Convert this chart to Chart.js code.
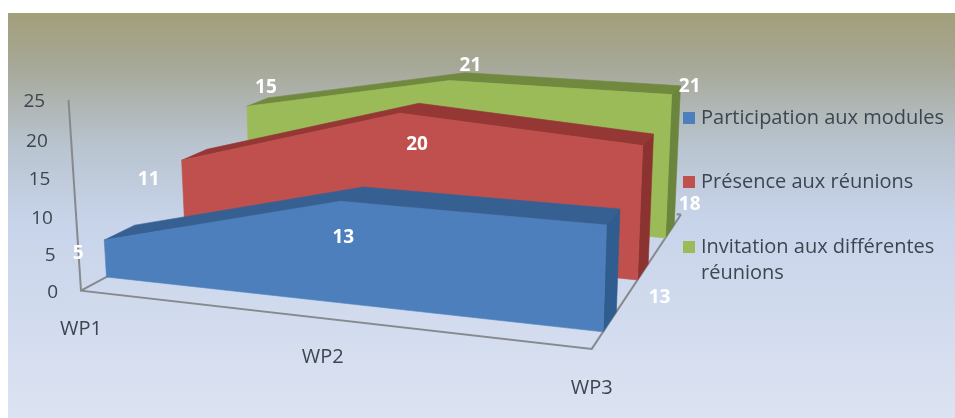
<!DOCTYPE html>
<html>
<head>
<meta charset="utf-8">
<title>Participation WP</title>
<script src="https://cdn.jsdelivr.net/npm/chart.js@4"></script>
<style>
  html, body { margin: 0; padding: 0; background: #fff; }
  canvas { display: block; filter: blur(0.5px); }
</style>
</head>
<body>
<canvas id="areaChart" width="955" height="418"></canvas>
<script>
// --- Data ---
const categories = ["WP1", "WP2", "WP3"];
const yTicks = [0, 5, 10, 15, 20, 25];
const participation = [5, 13, 13];
const presence = [11, 20, 18];
const invitation = [15, 21, 21];
const seriesNames = ["Participation aux modules", "Présence aux réunions", ["Invitation aux différentes", "réunions"]];

// --- Look ---
const FONT = '"Open Sans", sans-serif';
const TEXT_COLOR = '#3c4650';
const AXIS_COLOR = '#868a8e';
const FRONT_COLORS = ['#4c7fbc', '#c0504d', '#9bbb59'];
const TOP_COLORS = ['#376092', '#953735', '#71893f'];
const SIDE_COLORS = ['#2f5d90', '#8c3230', '#6b853c'];
const LEGEND_Y = [118, 182, 247];

// where the data labels sit relative to the top of their point (series, category)
const LABEL_SHIFT = [
    [[-26, 14], [3, 36], [53, 73]],
    [[-33, 19], [17, 31], [47, 59]],
    [[19, -19], [21, -15], [18, -8]]
];

// --- 3D projection: category t, value v, depth z -> canvas position ---
const DEPTH = 0.36;      // thickness of one series
const FLOOR_FRONT = -0.285;
const FLOOR_BACK = 2.65;
const AXIS_TOP = 24.4;

function project(t, v, z) {
    const w = 1 - 0.0489 * t - 0.00137 * v + 0.105 * z;
    return {
        x: (106.5 + 218.8 * t - 0.59 * v + 98 * z) / w,
        y: (277 + 11.2 * t - 7.72 * v - 17.4 * z) / w
    };
}

// --- Build the faces of every series ---
function frontFace(values, z) {
    const top = values.map((v, t) => project(t, v, z));
    return top.concat([project(2, 0, z), project(0, 0, z)]);
}

function topFace(values, z) {
    const front = values.map((v, t) => project(t, v, z));
    const back = values.map((v, t) => project(t, v, z + DEPTH)).reverse();
    return front.concat(back);
}

function sideFace(values, z) {
    const last = values.length - 1;
    return [project(last, values[last], z), project(last, values[last], z + DEPTH),
            project(last, 0, z + DEPTH), project(last, 0, z)];
}

function face(points, color) {
    return { type: 'line', data: points, faceColor: color, showLine: false, pointRadius: 0 };
}

function axisLine(points) {
    return { type: 'line', data: points, showLine: true, borderColor: AXIS_COLOR, borderWidth: 2,
             pointRadius: 0, tension: 0, fill: false };
}

const allSeries = [participation, presence, invitation];
const datasets = [];

datasets.push(axisLine([project(0, AXIS_TOP, FLOOR_FRONT), project(0, 0, FLOOR_FRONT), project(2, 0, FLOOR_FRONT),
                        project(2, 0, FLOOR_BACK)]));
datasets.push(axisLine([project(0, 0, FLOOR_FRONT), project(0, 0, 0.3)]));
datasets.push(axisLine([project(2, 0, FLOOR_BACK), project(1.98, 0, FLOOR_BACK)]));

// back to front: green, red, blue
[2, 1, 0].forEach(i => {
    datasets.push(face(sideFace(allSeries[i], i), SIDE_COLORS[i]));
    datasets.push(face(topFace(allSeries[i], i), TOP_COLORS[i]));
    datasets.push(face(frontFace(allSeries[i], i), FRONT_COLORS[i]));
});

// first in the list is painted first
datasets.forEach((d, i) => { d.order = datasets.length - i; });

// --- Plugins ---
const backgroundPlugin = {
    id: 'background',
    beforeDraw(chart) {
        const ctx = chart.ctx;
        const g = ctx.createLinearGradient(0, 13, 0, 418);
        g.addColorStop(0, '#a39f7b');
        g.addColorStop(0.13, '#a6a897');
        g.addColorStop(0.33, '#b9c4d0');
        g.addColorStop(0.52, '#c8d4ea');
        g.addColorStop(1, '#dce3f2');
        ctx.save();
        ctx.fillStyle = g;
        ctx.fillRect(8, 13, 947, 405);
        ctx.restore();
    }
};

const facePlugin = {
    id: 'faces',
    beforeDatasetDraw(chart, args) {
        const dataset = chart.data.datasets[args.index];
        if (!dataset.faceColor) return;
        const pts = chart.getDatasetMeta(args.index).data;
        const ctx = chart.ctx;
        ctx.save();
        ctx.beginPath();
        pts.forEach((p, i) => { i ? ctx.lineTo(p.x, p.y) : ctx.moveTo(p.x, p.y); });
        ctx.closePath();
        ctx.fillStyle = dataset.faceColor;
        ctx.strokeStyle = dataset.faceColor;
        ctx.lineWidth = 0.6;
        ctx.fill();
        ctx.stroke();
        ctx.restore();
    }
};

const textPlugin = {
    id: 'texts',
    afterDatasetsDraw(chart) {
        const ctx = chart.ctx;
        const xs = chart.scales.x;
        const ys = chart.scales.y;
        const px = p => ({ x: xs.getPixelForValue(p.x), y: ys.getPixelForValue(p.y) });
        ctx.save();
        ctx.textBaseline = 'middle';

        // value axis
        ctx.fillStyle = TEXT_COLOR;
        ctx.font = '19px ' + FONT;
        ctx.textAlign = 'right';
        yTicks.forEach(v => {
            const p = px(project(0, v, FLOOR_FRONT));
            ctx.fillText(String(v), p.x - 23, p.y + 2 + v * 0.2);
        });

        // categories
        ctx.font = '20px ' + FONT;
        ctx.textAlign = 'center';
        categories.forEach((c, t) => {
            const p = px(project(t, 0, FLOOR_FRONT));
            ctx.fillText(c, p.x, p.y + 39);
        });

        // data labels
        ctx.fillStyle = '#ffffff';
        ctx.font = 'bold 19px ' + FONT;
        allSeries.forEach((values, i) => {
            values.forEach((v, t) => {
                const p = px(project(t, v, i));
                ctx.fillText(String(v), p.x + LABEL_SHIFT[i][t][0], p.y + LABEL_SHIFT[i][t][1]);
            });
        });

        // legend
        ctx.textAlign = 'left';
        ctx.font = '20px ' + FONT;
        seriesNames.forEach((name, i) => {
            ctx.fillStyle = FRONT_COLORS[i];
            ctx.fillRect(683, LEGEND_Y[i] - 6, 12, 12);
            ctx.fillStyle = TEXT_COLOR;
            [].concat(name).forEach((line, n) => ctx.fillText(line, 701, LEGEND_Y[i] + n * 26));
        });
        ctx.restore();
    }
};

// --- Chart ---
new Chart(document.getElementById('areaChart'), {
    type: 'line',
    data: { datasets: datasets },
    plugins: [backgroundPlugin, facePlugin, textPlugin],
    options: {
        responsive: false,
        animation: false,
        parsing: false,
        normalized: false,
        layout: { padding: 0 },
        plugins: { legend: { display: false }, tooltip: { enabled: false } },
        scales: {
            x: { type: 'linear', display: false, min: 0, max: 955 },
            y: { type: 'linear', display: false, min: 0, max: 418, reverse: true }
        }
    }
});
</script>
</body>
</html>
